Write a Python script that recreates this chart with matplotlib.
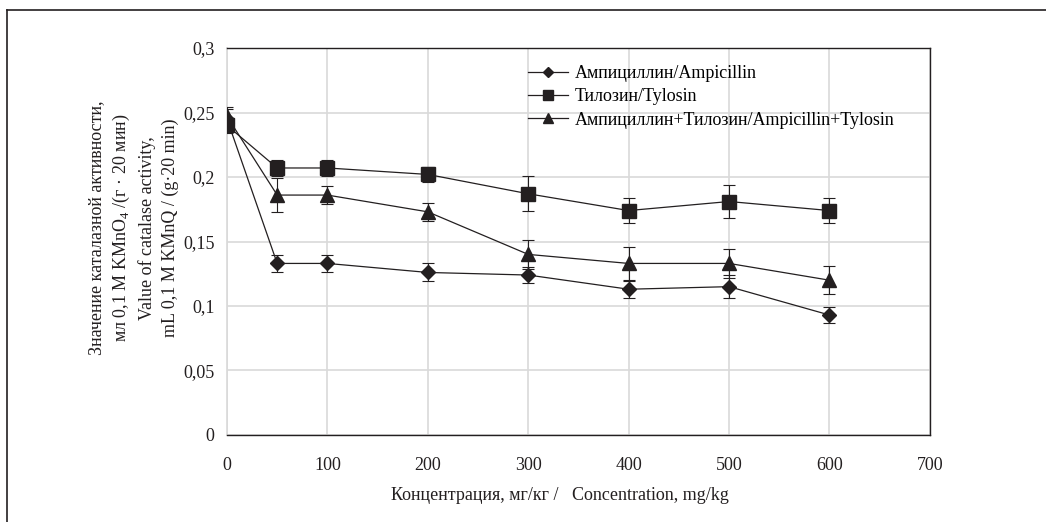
import matplotlib
matplotlib.use("Agg")
import matplotlib.pyplot as plt
from matplotlib.lines import Line2D
from matplotlib.ticker import FuncFormatter

plt.rcParams['font.family'] = ['Liberation Serif', 'DejaVu Serif']
plt.rcParams['mathtext.fontset'] = 'custom'
plt.rcParams['mathtext.rm'] = 'Liberation Serif'

conc = [0, 50, 100, 200, 300, 400, 500, 600]

ampicillin = [0.245, 0.133, 0.133, 0.126, 0.124, 0.113, 0.115, 0.093]
ampicillin_err = [0.009, 0.0065, 0.0065, 0.007, 0.006, 0.0065, 0.009, 0.0065]

tylosin = [0.240, 0.207, 0.207, 0.202, 0.187, 0.174, 0.181, 0.174]
tylosin_err = [0.006, 0.006, 0.006, 0.006, 0.0135, 0.010, 0.013, 0.010]

combo = [0.247, 0.186, 0.186, 0.173, 0.140, 0.133, 0.133, 0.120]
combo_err = [0.006, 0.0135, 0.007, 0.007, 0.011, 0.0125, 0.011, 0.011]

labels = ["Ампициллин/Ampicillin", "Тилозин/Tylosin",
          "Ампициллин+Тилозин/Ampicillin+Tylosin"]

dark = "#231f20"
grid_c = "#d9d9d9"
fs = 13

fig = plt.figure(figsize=(10.46, 5.22), dpi=100)
ax = fig.add_axes([0.217, 0.1667, 0.672, 0.7413])

series = [(ampicillin, ampicillin_err, "D", 7),
          (tylosin, tylosin_err, "s", 10),
          (combo, combo_err, "^", 10)]

handles = []
for (vals, errs, mk, ms), lab in zip(series, labels):
    ax.errorbar(conc, vals, yerr=errs, color=dark, lw=0.9, marker=mk,
                markersize=ms, ecolor=dark, elinewidth=0.8, capsize=4,
                capthick=0.8, zorder=3)
    handles.append(Line2D([], [], color=dark, lw=0.9, marker=mk,
                          markersize=ms * 0.75, label=lab))

ax.set_xlim(0, 700)
ax.set_ylim(0, 0.3)
ax.set_xticks(range(0, 701, 100))
ax.set_yticks([0, 0.05, 0.1, 0.15, 0.2, 0.25, 0.3])
ax.yaxis.set_major_formatter(FuncFormatter(lambda v, p: ("%g" % round(v, 2)).replace(".", ",")))
ax.grid(True, color=grid_c, lw=1.2)
ax.set_axisbelow(True)
ax.tick_params(length=0, labelsize=fs, colors=dark, pad=9)
ax.tick_params(axis='x', pad=16)

for s in ["top", "right", "bottom"]:
    ax.spines[s].set_color(dark)
    ax.spines[s].set_linewidth(1.0)
ax.spines["left"].set_color(grid_c)
ax.spines["left"].set_linewidth(1.2)

ax.legend(handles=handles, loc="upper left", bbox_to_anchor=(0.505, 1 - 65 / 522),
          bbox_transform=fig.transFigure, frameon=False, fontsize=fs,
          handlelength=2.2, handletextpad=0.4, labelspacing=0.35,
          borderaxespad=0, borderpad=0)

ylab = ["Значение каталазной активности,",
        r"мл 0,1 М KMnO$_{\mathrm{4}}$ /(г · 20 мин)",
        "Value of catalase activity,",
        "mL 0,1 M KMnQ / (g·20 min)"]
for xp, t in zip([97, 121, 147, 170], ylab):
    fig.text(xp / 1046, 1 - 228 / 522, t, rotation=90, ha="center",
             va="center", fontsize=fs, color=dark)

fig.text(560 / 1046, 1 - 496 / 522,
         "Концентрация, мг/кг /   Concentration, mg/kg",
         ha="center", va="center", fontsize=fs, color=dark)

# partial frame around the figure (top and left)
fig.add_artist(Line2D([7 / 1046, 7 / 1046], [0, 1 - 10 / 522],
                      transform=fig.transFigure, color=dark, lw=1.2))
fig.add_artist(Line2D([7 / 1046, 1], [1 - 10 / 522, 1 - 10 / 522],
                      transform=fig.transFigure, color=dark, lw=1.2))

fig.savefig("out.png", dpi=100)
